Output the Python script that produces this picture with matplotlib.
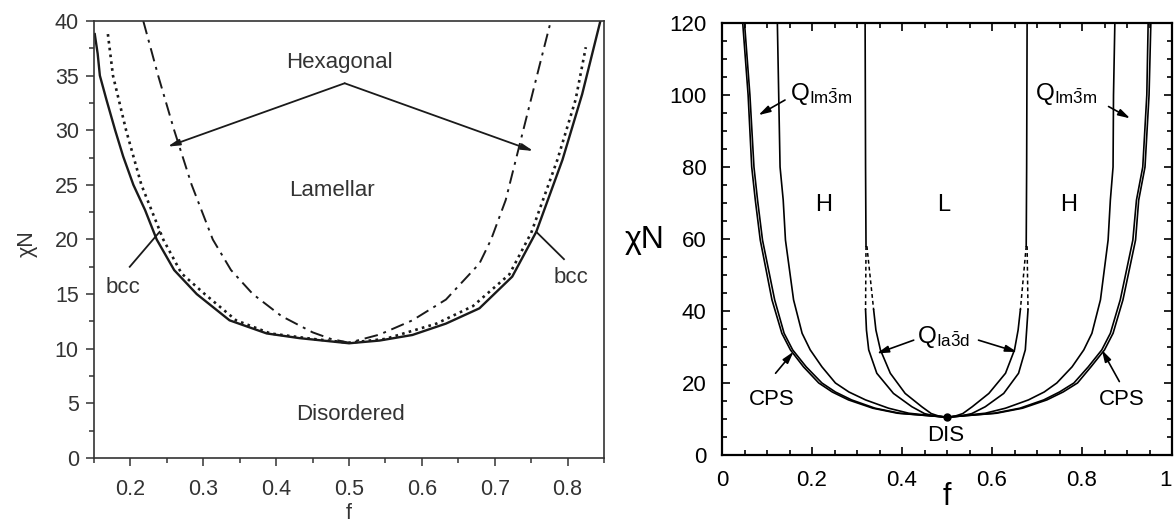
import matplotlib.pyplot as plt
from matplotlib.ticker import MultipleLocator

plt.rcParams['font.family'] = ['Liberation Sans', 'DejaVu Sans']
plt.rcParams['mathtext.fontset'] = 'custom'
plt.rcParams['mathtext.rm'] = 'Liberation Sans'
plt.rcParams['mathtext.it'] = 'Liberation Sans:italic'

# ---- left panel: weak segregation phase boundaries (f, chiN) ----
f_odt = [0.151, 0.155, 0.158, 0.167, 0.179, 0.190, 0.204, 0.220, 0.236, 0.260, 0.291,
         0.336, 0.387, 0.432, 0.50, 0.542, 0.587, 0.633, 0.679, 0.724, 0.757, 0.793,
         0.820, 0.845]
chi_odt = [38.8, 37.0, 35.0, 32.8, 30.0, 27.6, 25.0, 22.7, 20.0, 17.2, 15.0,
           12.6, 11.4, 10.97, 10.5, 10.75, 11.26, 12.3, 13.7, 16.6, 20.7, 27.3,
           33.3, 40.0]

f_bcc_hex = [0.169, 0.176, 0.194, 0.215, 0.245, 0.270, 0.302, 0.345, 0.392, 0.45, 0.50,
             0.55, 0.62, 0.67, 0.72, 0.750, 0.786, 0.811, 0.825]
chi_bcc_hex = [38.8, 35.0, 30.0, 25.0, 20.0, 16.9, 15.0, 12.6, 11.4, 10.9, 10.55,
               10.9, 12.3, 13.9, 16.8, 20.6, 27.3, 32.8, 37.6]

f_hex_lam = [0.2176, 0.238, 0.260, 0.284, 0.313, 0.338, 0.368, 0.407, 0.450, 0.475, 0.50,
             0.542, 0.587, 0.633, 0.679, 0.695, 0.715, 0.738, 0.761, 0.777]
chi_hex_lam = [40.0, 35.0, 30.0, 25.0, 20.0, 17.2, 15.0, 13.0, 11.5, 10.9, 10.55,
               11.3, 12.6, 14.5, 17.8, 20.0, 23.6, 29.7, 35.8, 40.0]

# ---- right panel: Matsen-Bates phase diagram ----
chi_lvl = [120, 100, 80, 70.8, 59.7, 43.1, 33.8, 29.2, 24.5, 20.0, 17.5, 15.3, 13.0, 11.6, 10.5]
f_dis_cps_l = [0.046, 0.058, 0.066, 0.074, 0.085, 0.111, 0.133, 0.152, 0.181, 0.215, 0.245,
               0.281, 0.335, 0.39, 0.5]
f_cps_bcc_l = [0.050, 0.062, 0.071, 0.079, 0.090, 0.117, 0.138, 0.157, 0.187, 0.222, 0.252,
               0.288, 0.340, 0.395, 0.5]
f_bcc_h_l = [0.123, 0.126, 0.129, 0.136, 0.141, 0.159, 0.178, 0.196, 0.222, 0.252, 0.282,
             0.319, 0.370, 0.415, 0.5]
f_dis_cps_r = [0.953, 0.949, 0.940, 0.926, 0.919, 0.891, 0.869, 0.850, 0.820, 0.790, 0.758,
               0.722, 0.668, 0.61, 0.5]
f_cps_bcc_r = [0.947, 0.944, 0.935, 0.921, 0.913, 0.885, 0.863, 0.844, 0.814, 0.782, 0.750,
               0.715, 0.662, 0.605, 0.5]
f_bcc_h_r = [0.873, 0.870, 0.869, 0.863, 0.858, 0.841, 0.822, 0.804, 0.778, 0.744, 0.716,
             0.681, 0.630, 0.585, 0.5]

chi_vert = [120, 80, 58]
f_hl_l = [0.318, 0.319, 0.320]
f_hl_r = [0.678, 0.677, 0.676]

chi_dash = [58, 40.3]
f_hg_dash_l = [0.320, 0.319]
f_gl_dash_l = [0.322, 0.337]
f_lg_dash_r = [0.676, 0.663]
f_gh_dash_r = [0.678, 0.680]

chi_gyr = [40.3, 34.7, 29.2, 22.7, 17.1, 13.4, 11.5, 10.8, 10.5]
f_hg_l = [0.319, 0.321, 0.326, 0.344, 0.381, 0.422, 0.450, 0.474, 0.5]
f_gl_l = [0.337, 0.342, 0.352, 0.374, 0.407, 0.444, 0.465, 0.482, 0.5]
f_lg_r = [0.663, 0.658, 0.650, 0.630, 0.593, 0.556, 0.535, 0.518, 0.5]
f_gh_r = [0.680, 0.677, 0.674, 0.659, 0.626, 0.585, 0.555, 0.530, 0.5]

dis_f, dis_chi = 0.5, 10.5

grey = '#333333'
fig = plt.figure(figsize=(11.74, 5.26), dpi=100)
ax1 = fig.add_axes([0.0801, 0.1293, 0.4344, 0.8308])
ax2 = fig.add_axes([0.6150, 0.1350, 0.3833, 0.8213])

# left panel --------------------------------------------------------------
ax1.plot(f_odt, chi_odt, color='#1a1a1a', lw=1.7)
ax1.plot(f_bcc_hex, chi_bcc_hex, color='#1a1a1a', lw=1.9, linestyle=(0, (1, 1.6)))
ax1.plot(f_hex_lam, chi_hex_lam, color='#1a1a1a', lw=1.4, linestyle=(0, (7, 3, 1.5, 3)))

ax1.set_xlim(0.15, 0.85)
ax1.set_ylim(0, 40)
ax1.xaxis.set_major_locator(MultipleLocator(0.1))
ax1.xaxis.set_minor_locator(MultipleLocator(0.05))
ax1.yaxis.set_major_locator(MultipleLocator(5))
ax1.yaxis.set_minor_locator(MultipleLocator(2.5))
ax1.tick_params(which='both', direction='out', top=False, right=False,
                colors=grey, labelsize=15.5, width=1.1)
ax1.tick_params(which='major', length=6)
ax1.tick_params(which='minor', length=3.5)
ax1.tick_params(axis='x', pad=9)
ax1.tick_params(axis='y', pad=5)
for s in ax1.spines.values():
    s.set_linewidth(1.2)
    s.set_color(grey)

ax1.text(-0.13, 0.49, 'χN', transform=ax1.transAxes, rotation=90,
         ha='center', va='center', fontsize=15.5, color=grey)
ax1.text(0.5, -0.128, 'f', transform=ax1.transAxes, ha='center', va='center',
         fontsize=15.5, color=grey)

fs = 16
ax1.text(0.487, 36.2, 'Hexagonal', ha='center', va='center', fontsize=fs, color=grey)
ax1.text(0.476, 24.5, 'Lamellar', ha='center', va='center', fontsize=fs, color=grey)
ax1.text(0.502, 4.0, 'Disordered', ha='center', va='center', fontsize=fs, color=grey)
ax1.text(0.19, 15.65, 'bcc', ha='center', va='center', fontsize=fs, color=grey)
ax1.text(0.805, 16.5, 'bcc', ha='center', va='center', fontsize=fs, color=grey)

arr = dict(arrowstyle='-|>,head_length=0.7,head_width=0.18', lw=1.3,
           color='#1a1a1a', shrinkA=0, shrinkB=0)
ax1.annotate('', xy=(0.251, 28.5), xytext=(0.494, 34.3), arrowprops=arr)
ax1.annotate('', xy=(0.753, 28.1), xytext=(0.494, 34.3), arrowprops=arr)
ax1.plot([0.199, 0.240], [17.5, 20.7], color='#1a1a1a', lw=1.3)
ax1.plot([0.795, 0.757], [18.2, 20.7], color='#1a1a1a', lw=1.3)

# right panel -------------------------------------------------------------
lk = dict(color='k', lw=1.2)
for fv in (f_dis_cps_l, f_cps_bcc_l, f_bcc_h_l, f_dis_cps_r, f_cps_bcc_r, f_bcc_h_r):
    ax2.plot(fv, chi_lvl, **lk)
ax2.plot(f_hl_l, chi_vert, **lk)
ax2.plot(f_hl_r, chi_vert, **lk)
for fv in (f_hg_dash_l, f_gl_dash_l, f_lg_dash_r, f_gh_dash_r):
    ax2.plot(fv, chi_dash, color='k', lw=1.1, linestyle=(0, (2.5, 2)))
for fv in (f_hg_l, f_gl_l, f_lg_r, f_gh_r):
    ax2.plot(fv, chi_gyr, **lk)
ax2.plot([dis_f], [dis_chi], 'o', color='k', ms=5)

ax2.set_xlim(0, 1)
ax2.set_ylim(0, 120)
ax2.set_xticks([0, 0.2, 0.4, 0.6, 0.8, 1])
ax2.set_xticklabels(['0', '0.2', '0.4', '0.6', '0.8', '1'])
ax2.get_xticklabels()[-1].set_horizontalalignment('right')
ax2.xaxis.set_minor_locator(MultipleLocator(0.05))
ax2.yaxis.set_major_locator(MultipleLocator(20))
ax2.yaxis.set_minor_locator(MultipleLocator(5))
ax2.tick_params(which='both', direction='in', top=True, right=True,
                labelsize=16, width=1.2)
ax2.tick_params(which='major', length=6)
ax2.tick_params(which='minor', length=3.5)
ax2.tick_params(axis='x', pad=11)
ax2.tick_params(axis='y', pad=11)
for s in ax2.spines.values():
    s.set_linewidth(1.6)

ax2.text(-0.171, 0.498, 'χN', transform=ax2.transAxes, ha='center', va='center',
         fontsize=23)
ax2.text(0.499, -0.097, 'f', transform=ax2.transAxes, ha='center', va='center',
         fontsize=22)

for x, lab in [(0.226, 'H'), (0.493, 'L'), (0.770, 'H')]:
    ax2.text(x, 69.5, lab, ha='center', va='center', fontsize=17)
ax2.text(0.498, 5.3, 'DIS', ha='center', va='center', fontsize=16)
ax2.text(0.111, 15.5, 'CPS', ha='center', va='center', fontsize=16)
ax2.text(0.889, 15.5, 'CPS', ha='center', va='center', fontsize=16)

q_im3m = r'Q$_{\mathrm{Im}\bar{3}\mathrm{m}}$'
q_ia3d = r'Q$_{\mathrm{Ia}\bar{3}\mathrm{d}}$'
ax2.text(0.150, 98.6, q_im3m, ha='left', va='baseline', fontsize=17.5)
ax2.text(0.696, 98.6, q_im3m, ha='left', va='baseline', fontsize=17.5)
ax2.text(0.493, 31.2, q_ia3d, ha='center', va='baseline', fontsize=17.5)

arr2 = dict(arrowstyle='-|>,head_length=0.7,head_width=0.2', lw=1.2,
            color='k', shrinkA=0, shrinkB=0)
ax2.annotate('', xy=(0.081, 94.4), xytext=(0.14, 98.6), arrowprops=arr2)
ax2.annotate('', xy=(0.907, 93.5), xytext=(0.859, 96.8), arrowprops=arr2)
ax2.annotate('', xy=(0.344, 28.2), xytext=(0.426, 31.9), arrowprops=arr2)
ax2.annotate('', xy=(0.656, 28.6), xytext=(0.570, 31.9), arrowprops=arr2)
ax2.annotate('', xy=(0.159, 28.7), xytext=(0.119, 22.7), arrowprops=arr2)
ax2.annotate('', xy=(0.844, 29.2), xytext=(0.883, 20.4), arrowprops=arr2)

fig.savefig('out.png', dpi=100)
